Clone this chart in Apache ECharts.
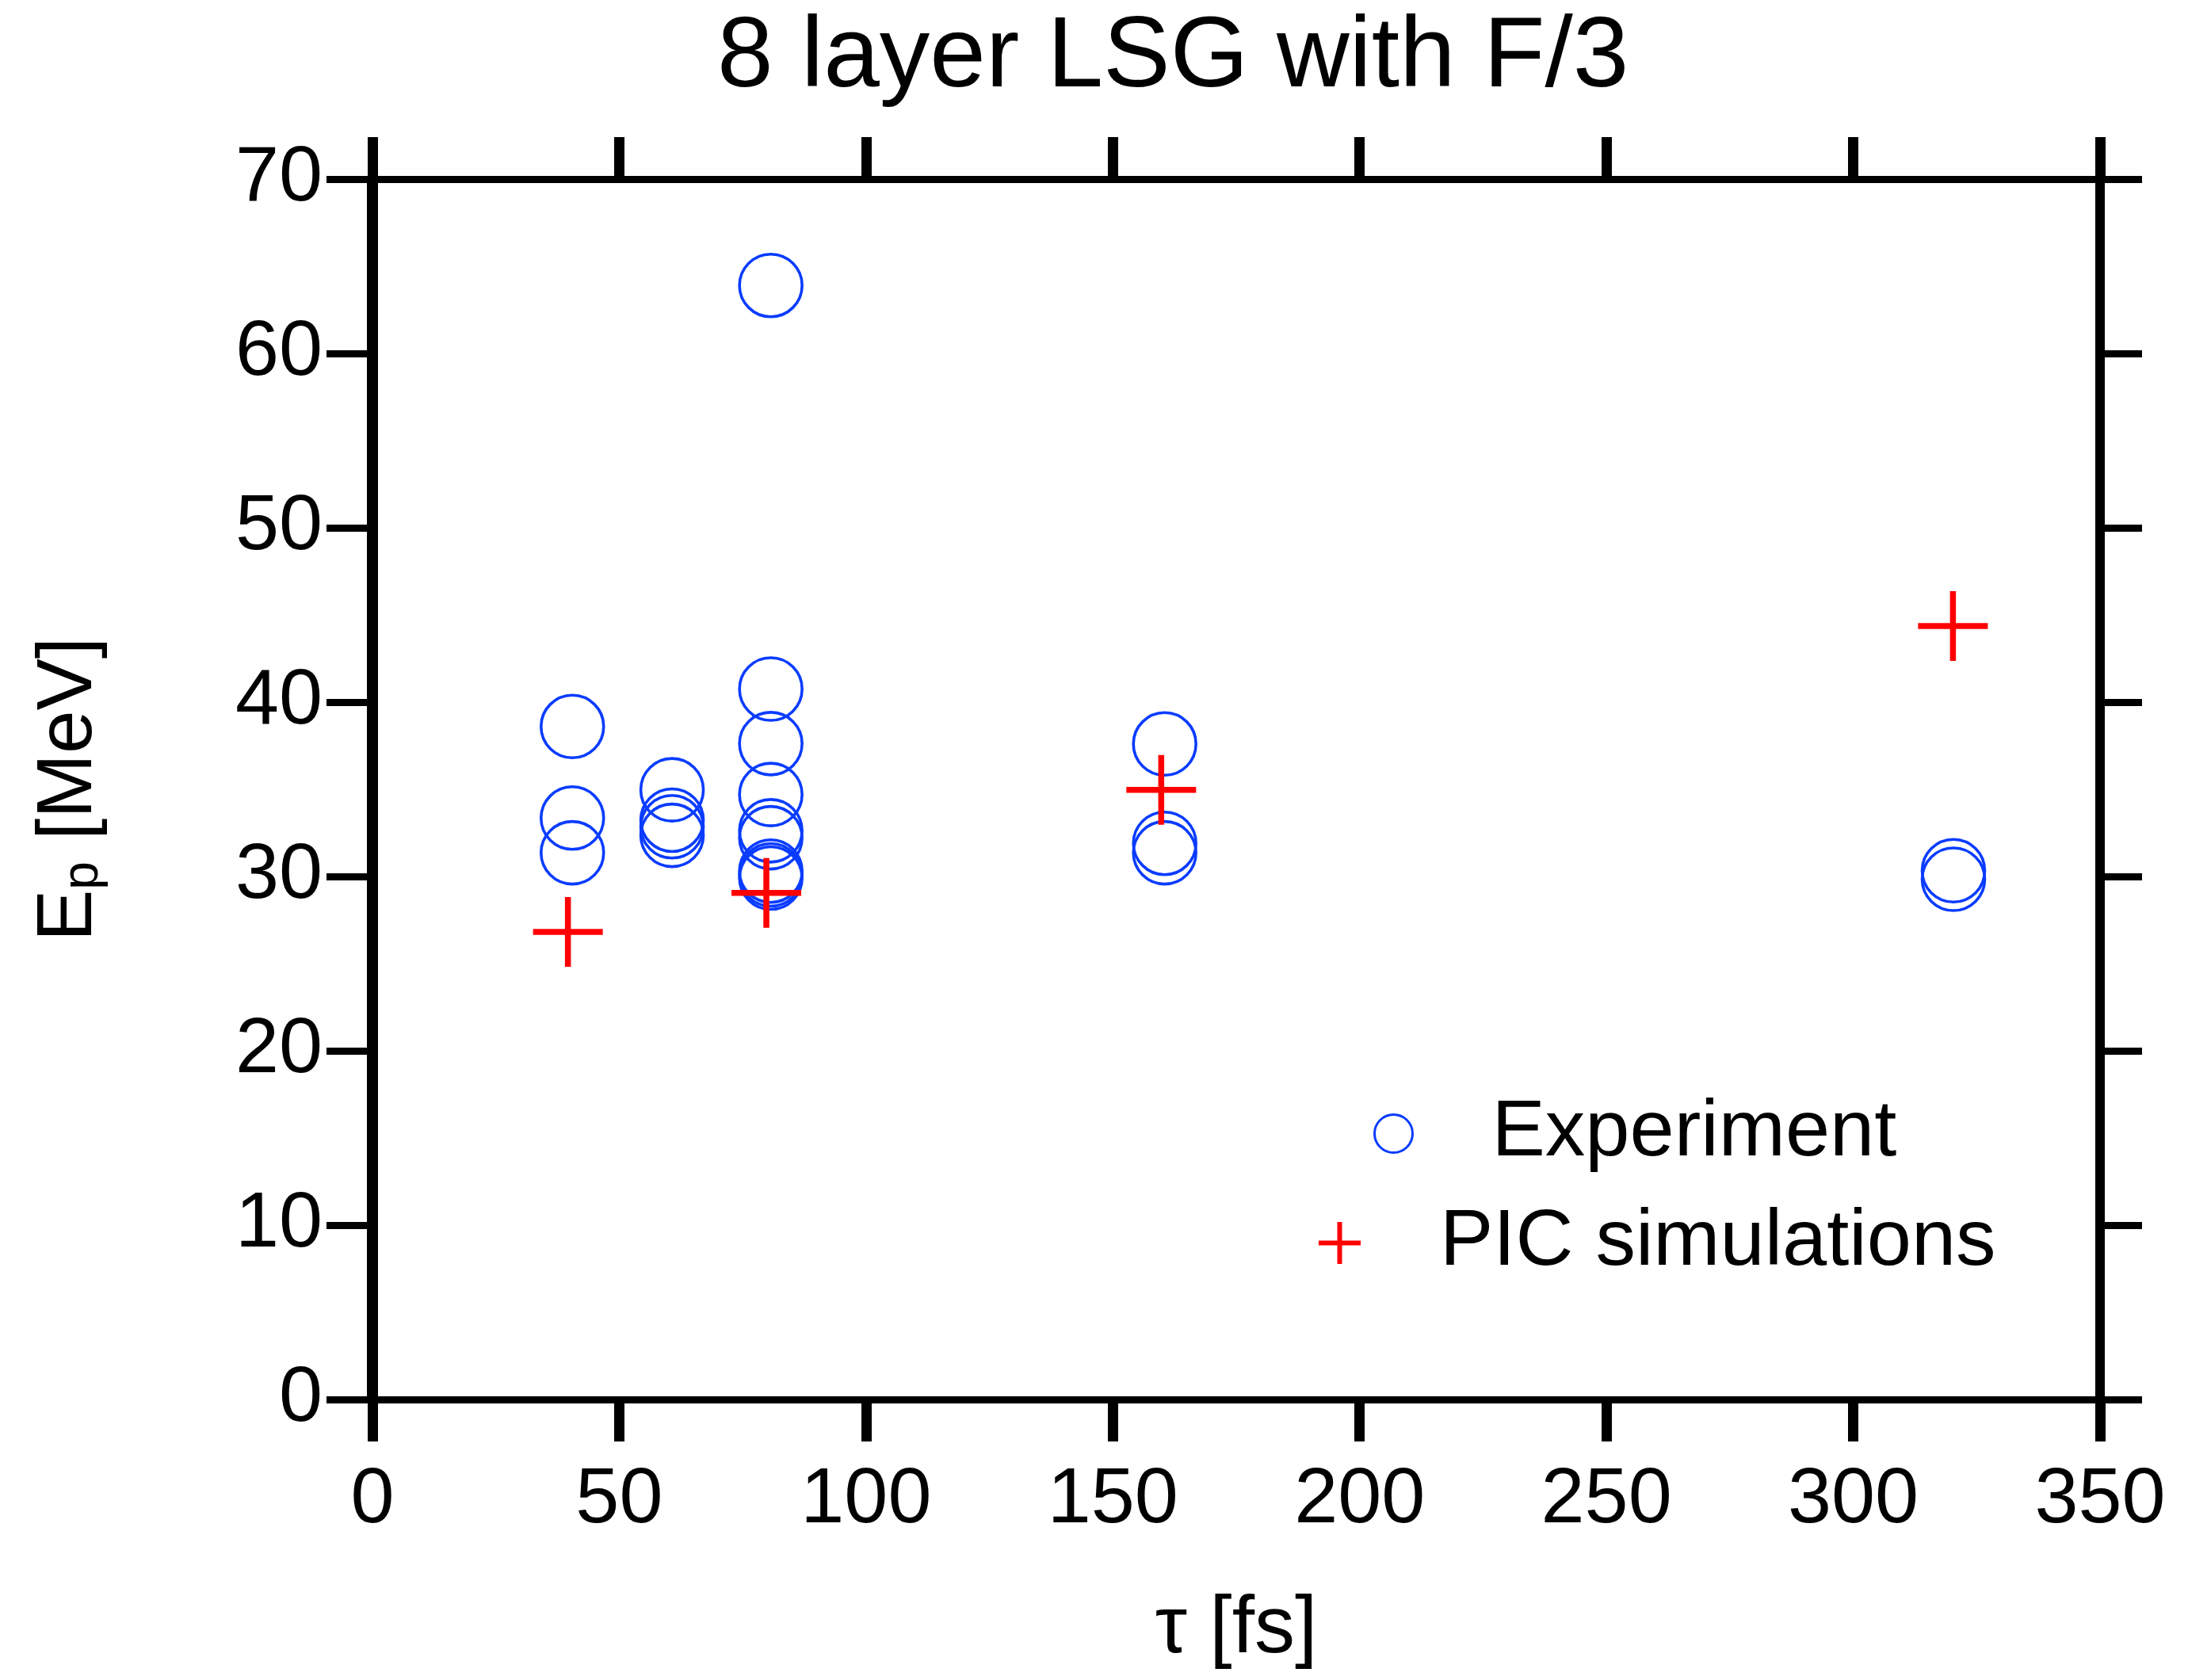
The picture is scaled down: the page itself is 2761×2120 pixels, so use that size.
<!DOCTYPE html>
<html>
<head>
<meta charset="utf-8">
<script src="https://cdn.jsdelivr.net/npm/echarts@6/dist/echarts.min.js"></script>
<style>
html,body{margin:0;padding:0;background:#fff;}
#chart{width:2761px;height:2120px;}
</style>
</head>
<body>
<div id="chart"></div>
<script>
// ---- data ----
const titleText = '8 layer LSG with F/3';
const xName = 'τ [fs]';
const expName = 'Experiment';
const picName = 'PIC simulations';

const expTau = [40.5, 40.5, 40.5, 60.7, 60.7, 60.7, 60.7,
                80.7, 80.7, 80.7, 80.7, 80.7, 80.7, 80.7, 80.7, 80.7,
                160.5, 160.5, 160.5, 320.3, 320.3];
const expEp  = [38.6, 33.35, 31.36, 34.97, 33.23, 32.85, 32.36,
                63.9, 40.75, 37.62, 34.70, 32.62, 32.22, 30.31, 30.09, 29.91,
                37.6, 31.9, 31.36, 30.33, 29.84];

const picTau = [39.6, 79.8, 159.8, 320.2];
const picEp  = [26.82, 29.06, 34.97, 44.36];

const xTicks = [0, 50, 100, 150, 200, 250, 300, 350];
const yTicks = [0, 10, 20, 30, 40, 50, 60, 70];

// ---- chart ----
const FONT = "'Liberation Sans', Arial, Helvetica, sans-serif";
const BLUE = '#0a3cff';
const RED = '#ff0000';
const PLUS = 'path://M10,0L10,20M0,10L20,10';

const chart = echarts.init(document.getElementById('chart'), null, {renderer: 'canvas'});

const xMin = xTicks[0], xMax = xTicks[xTicks.length - 1], xInt = xTicks[1] - xTicks[0];
const yMin = yTicks[0], yMax = yTicks[yTicks.length - 1], yInt = yTicks[1] - yTicks[0];

function xAxisBase(pos, showLabel) {
  return {
    type: 'value', position: pos, min: xMin, max: xMax, interval: xInt,
    splitLine: {show: false},
    axisLine: {show: true, onZero: false, lineStyle: {color: '#000', width: 9}},
    axisTick: {show: true, inside: false, length: 53, lineStyle: {color: '#000', width: 13}},
    axisLabel: {show: showLabel, margin: 78, color: '#000', fontSize: 99, fontFamily: FONT}
  };
}
function yAxisBase(pos, showLabel, lineW) {
  return {
    type: 'value', position: pos, min: yMin, max: yMax, interval: yInt,
    splitLine: {show: false},
    axisLine: {show: true, onZero: false, lineStyle: {color: '#000', width: lineW}},
    axisTick: {show: true, inside: false, length: pos === 'left' ? 58 : 53, lineStyle: {color: '#000', width: 9}},
    axisLabel: {show: showLabel, margin: 63, color: '#000', fontSize: 99, fontFamily: FONT}
  };
}

const xBottom = Object.assign(xAxisBase('bottom', true), {
  name: xName, nameLocation: 'middle', nameGap: 240,
  nameTextStyle: {color: '#000', fontSize: 102, fontFamily: FONT}
});
const xTop = xAxisBase('top', false);
const yLeft = Object.assign(yAxisBase('left', true, 14), {
  name: '{a|E}{s|p}{a| [MeV]}', nameLocation: 'middle', nameGap: 333, nameRotate: 90,
  nameTextStyle: {
    color: '#000', fontFamily: FONT,
    rich: {
      a: {fontSize: 98, fontFamily: FONT, color: '#000'},
      s: {fontSize: 64, fontFamily: FONT, color: '#000', verticalAlign: 'bottom', padding: [0, 0, 0, 0], lineHeight: 64}
    }
  }
});
const yRight = yAxisBase('right', false, 12);

const option = {
  backgroundColor: '#fff',
  animation: false,
  title: {
    text: titleText, left: 905, top: 10, padding: 0,
    textStyle: {color: '#000', fontSize: 127, fontWeight: 'normal', fontFamily: FONT}
  },
  grid: {left: 470, right: 111, top: 226, bottom: 354, containLabel: false},
  legend: [
    {
      data: [{name: expName, icon: 'circle',
              itemStyle: {color: 'transparent', borderColor: BLUE, borderWidth: 3}}],
      left: 1733, top: 1380, padding: 0, orient: 'vertical',
      itemWidth: 48, itemHeight: 48, selectedMode: false,
      textStyle: {color: '#000', fontSize: 101, fontFamily: FONT, padding: [0, 0, 0, 95]}
    },
    {
      data: [{name: picName, icon: PLUS,
              itemStyle: {color: 'transparent', borderColor: RED, borderWidth: 6}}],
      left: 1661, top: 1518, padding: 0, orient: 'vertical',
      itemWidth: 53, itemHeight: 53, selectedMode: false,
      textStyle: {color: '#000', fontSize: 101, fontFamily: FONT, padding: [0, 0, 0, 95]}
    }
  ],
  xAxis: [xBottom, xTop],
  yAxis: [yLeft, yRight],
  series: [
    {
      name: expName, type: 'scatter', xAxisIndex: 0, yAxisIndex: 0,
      data: expTau.map((t, i) => [t, expEp[i]]),
      symbol: 'circle', symbolSize: 79,
      itemStyle: {color: 'transparent', borderColor: BLUE, borderWidth: 3.6, opacity: 1},
      emphasis: {disabled: true}
    },
    {
      name: picName, type: 'scatter', xAxisIndex: 0, yAxisIndex: 0,
      data: picTau.map((t, i) => [t, picEp[i]]),
      symbol: PLUS, symbolSize: 88,
      itemStyle: {color: 'transparent', borderColor: RED, borderWidth: 7.5, opacity: 1},
      emphasis: {disabled: true}
    }
  ]
};
chart.setOption(option);
</script>
</body>
</html>
